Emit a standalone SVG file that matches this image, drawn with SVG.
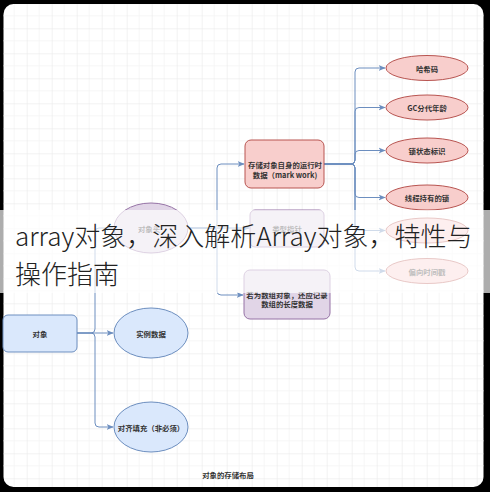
<svg xmlns="http://www.w3.org/2000/svg" width="490" height="492" viewBox="0 0 490 492">
<defs>
<pattern id="grid" x="1.7" y="3.3" width="25" height="25" patternUnits="userSpaceOnUse">
<path d="M12.5 0V25M0 12.5H25" stroke="#f4f4f4" stroke-width="0.8" fill="none"/>
<path d="M0 0V25M0 0H25" stroke="#e6e6e6" stroke-width="1" fill="none"/>
</pattern>
<marker id="arr" viewBox="0 0 10 10" refX="9" refY="5" markerWidth="7" markerHeight="7" markerUnits="userSpaceOnUse" orient="auto">
<path d="M0 1L10 5L0 9L2.5 5Z" fill="#6c8ebf"/>
</marker>
<style>
.lbl{font-family:"Noto Sans CJK SC","Noto Sans",sans-serif;font-size:7.4px;font-weight:bold;fill:#333;text-anchor:middle;dominant-baseline:central}
.blue{fill:#dae8fc;stroke:#6c8ebf;stroke-width:1}
.purple{fill:#e1d5e7;stroke:#9673a6;stroke-width:1}
.pink{fill:#f8cecc;stroke:#b85450;stroke-width:1}
.edge{fill:none;stroke:#6c8ebf;stroke-width:1;marker-end:url(#arr)}
.title{font-family:"Noto Sans CJK SC","Noto Sans",sans-serif;font-size:26px;font-weight:300;fill:#222}
</style>
</defs>
<rect x="0" y="0" width="490" height="492" fill="#000"/>
<rect x="3.5" y="4" width="480" height="483" rx="10" fill="#fff"/>
<rect x="3.5" y="4" width="480" height="483" rx="10" fill="url(#grid)"/>

<g id="connectors">
<path class="edge" d="M77 333H91Q95 333 95 329V232Q95 228 99 228H113"/>
<path class="edge" d="M77 333H113"/>
<path class="edge" d="M77 333H91Q95 333 95 337V423Q95 427 99 427H113"/>
<path class="edge" d="M188 228H213Q217 228 217 224V168Q217 164 221 164H244"/>
<path class="edge" d="M188 228H249"/>
<path class="edge" d="M188 228H213Q217 228 217 232V291Q217 295 221 295H243"/>
<path class="edge" d="M324 164H351Q355 164 355 160V72Q355 68 359 68H385"/>
<path class="edge" d="M324 164H351Q355 164 355 160V111.5Q355 107.5 359 107.5H385"/>
<path class="edge" d="M324 164H351Q355 164 355 160V154.5Q355 150.5 359 150.5H385"/>
<path class="edge" d="M324 164H351Q355 164 355 168V193.5Q355 197.5 359 197.5H385"/>
<path class="edge" d="M324 164H351Q355 164 355 168V226.5Q355 230.5 359 230.5H385"/>
<path class="edge" d="M324 164H351Q355 164 355 168V267Q355 271 359 271H385"/>
</g>

<g id="node-object">
<rect class="blue" x="3" y="315" width="74" height="37" rx="5"/>
<text class="lbl" x="40" y="333.5">对象</text>
</g>
<g id="node-header">
<ellipse class="purple" cx="151" cy="228" rx="37" ry="25"/>
<text class="lbl" x="149" y="228">对象头</text>
</g>
<g id="node-instance">
<ellipse class="blue" cx="151" cy="333" rx="37" ry="25"/>
<text class="lbl" x="151" y="333">实例数据</text>
</g>
<g id="node-padding">
<ellipse class="blue" cx="151" cy="427" rx="37" ry="25"/>
<text class="lbl" x="151" y="427">对齐填充（非必须）</text>
</g>
<g id="node-markword">
<rect class="pink" x="245" y="140" width="79" height="48" rx="6"/>
<text class="lbl" x="285" y="164">存储对象自身的运行时</text>
<text class="lbl" x="285" y="174">数据（mark work)</text>
</g>
<g id="node-classptr">
<rect class="purple" x="250" y="210" width="74" height="37" rx="5"/>
<text class="lbl" x="287" y="228.5">类型指针</text>
</g>
<g id="node-arraylen">
<rect class="purple" x="244" y="270" width="86" height="49" rx="6"/>
<text class="lbl" x="287" y="294">若为数组对象，还应记录</text>
<text class="lbl" x="287" y="303">数组的长度数据</text>
</g>
<g id="node-hash">
<ellipse class="pink" cx="427" cy="68" rx="41" ry="12.5"/>
<text class="lbl" x="427" y="68">哈希码</text>
</g>
<g id="node-gc">
<ellipse class="pink" cx="427" cy="107.5" rx="41" ry="12.5"/>
<text class="lbl" x="427" y="107.5">GC分代年龄</text>
</g>
<g id="node-lockstate">
<ellipse class="pink" cx="427" cy="150.5" rx="41" ry="12.5"/>
<text class="lbl" x="427" y="150.5">锁状态标识</text>
</g>
<g id="node-lockheld">
<ellipse class="pink" cx="427" cy="197.5" rx="41" ry="12.5"/>
<text class="lbl" x="427" y="197.5">线程持有的锁</text>
</g>
<g id="node-biasid">
<ellipse class="pink" cx="427" cy="230.5" rx="41" ry="12.5"/>
</g>
<g id="node-biastime">
<ellipse class="pink" cx="427" cy="271" rx="41" ry="12.5"/>
<text class="lbl" x="427" y="271">偏向时间戳</text>
</g>
<text class="lbl" x="228" y="474">对象的存储布局</text>

<rect x="0" y="210" width="490" height="83" fill="#fff" fill-opacity="0.68"/>
<text class="title" x="15" y="246">array对象，深入解析Array对象，特性与</text>
<text class="title" x="15" y="284">操作指南</text>
</svg>
